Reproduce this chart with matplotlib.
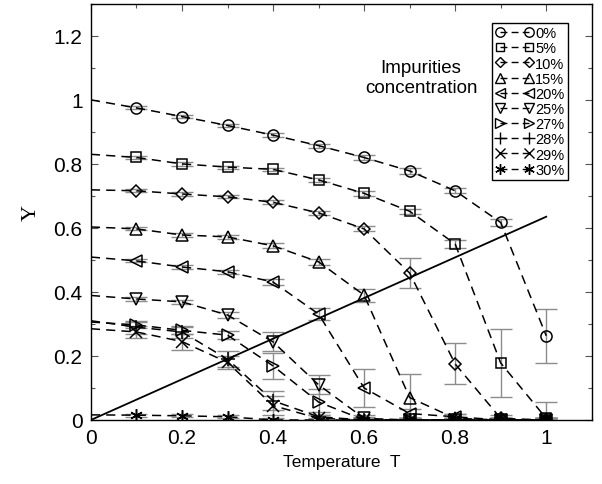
import matplotlib
matplotlib.use("Agg")
import matplotlib.pyplot as plt
from matplotlib.lines import Line2D
from matplotlib.ticker import MultipleLocator

T = [0.0, 0.1, 0.2, 0.3, 0.4, 0.5, 0.6, 0.7, 0.8, 0.9, 1.0]

labels = ["0%", "5%", "10%", "15%", "20%", "25%", "27%", "28%", "29%", "30%"]
markers = ["o", "s", "D", "^", "<", "v", ">", "+", "x", (6, 2, 0)]

y_0 = [1.0, 0.975, 0.948, 0.92, 0.89, 0.857, 0.82, 0.778, 0.716, 0.617, 0.263]
y_5 = [0.83, 0.82, 0.80, 0.79, 0.783, 0.75, 0.708, 0.652, 0.55, 0.178, 0.005]
y_10 = [0.719, 0.716, 0.706, 0.697, 0.68, 0.647, 0.597, 0.459, 0.175, 0.005, 0.0]
y_15 = [0.603, 0.597, 0.578, 0.572, 0.544, 0.494, 0.39, 0.07, 0.005, 0.0, 0.0]
y_20 = [0.509, 0.497, 0.478, 0.463, 0.431, 0.331, 0.10, 0.02, 0.01, 0.0, 0.0]
y_25 = [0.389, 0.378, 0.369, 0.328, 0.244, 0.11, 0.005, 0.0, 0.0, 0.0, 0.0]
y_27 = [0.306, 0.297, 0.28, 0.265, 0.169, 0.056, 0.0, 0.0, 0.0, 0.0, 0.0]
y_28 = [0.31, 0.29, 0.275, 0.19, 0.06, 0.01, 0.0, 0.0, 0.0, 0.0, 0.0]
y_29 = [0.285, 0.275, 0.245, 0.18, 0.045, 0.005, 0.0, 0.0, 0.0, 0.0, 0.0]
y_30 = [0.016, 0.015, 0.013, 0.01, 0.0, 0.0, 0.0, 0.0, 0.0, 0.0, 0.0]

e_0 = [0, 0.005, 0.005, 0.005, 0.006, 0.006, 0.007, 0.008, 0.008, 0.01, 0.085]
e_5 = [0, 0.005, 0.005, 0.005, 0.005, 0.006, 0.007, 0.008, 0.012, 0.105, 0.05]
e_10 = [0, 0.005, 0.005, 0.005, 0.006, 0.006, 0.008, 0.048, 0.064, 0.01, 0.005]
e_15 = [0, 0.005, 0.005, 0.006, 0.008, 0.01, 0.02, 0.075, 0.015, 0.005, 0.005]
e_20 = [0, 0.005, 0.006, 0.007, 0.008, 0.02, 0.06, 0.015, 0.01, 0.005, 0.005]
e_25 = [0, 0.006, 0.007, 0.01, 0.03, 0.03, 0.01, 0.005, 0.005, 0.005, 0.005]
e_27 = [0, 0.01, 0.01, 0.012, 0.04, 0.04, 0.01, 0.005, 0.005, 0.005, 0.005]
e_28 = [0, 0.02, 0.02, 0.025, 0.03, 0.015, 0.005, 0.005, 0.005, 0.005, 0.005]
e_29 = [0, 0.02, 0.025, 0.02, 0.03, 0.01, 0.005, 0.005, 0.005, 0.005, 0.005]
e_30 = [0, 0.005, 0.005, 0.005, 0.005, 0.005, 0.005, 0.005, 0.005, 0.005, 0.005]

series = [y_0, y_5, y_10, y_15, y_20, y_25, y_27, y_28, y_29, y_30]
errors = [e_0, e_5, e_10, e_15, e_20, e_25, e_27, e_28, e_29, e_30]

line_x = [0.0, 1.0]
line_y = [0.0, 0.635]

plt.rcParams['font.family'] = ['Liberation Sans', 'DejaVu Sans']

fig = plt.figure(figsize=(6.02, 4.85), dpi=100)
ax = fig.add_axes([0.151, 0.132, 0.832, 0.858])

msizes = [8, 7, 6, 8, 8, 8, 8, 10, 8, 9]

handles = []
for y, e, m, ms, lab in zip(series, errors, markers, msizes, labels):
    ax.errorbar(T[1:], y[1:], yerr=e[1:], fmt="none", ecolor="#8c8c8c",
                elinewidth=1.0, capsize=8, capthick=1.0, zorder=2)
    ax.plot(T, y, color="black", linestyle=(0, (6, 4)), linewidth=1.1, zorder=3)
    ax.plot(T[1:], y[1:], linestyle="none", marker=m, markersize=ms,
            markerfacecolor="none", markeredgecolor="black", markeredgewidth=1.1,
            zorder=4)
    handles.append(Line2D([0], [0], color="black", linestyle=(0, (5, 3)),
                          linewidth=1.0, marker=m, markersize=ms * 0.85,
                          markerfacecolor="none", markeredgecolor="black",
                          markeredgewidth=1.0, label=lab))

ax.plot(line_x, line_y, color="black", linewidth=1.3, zorder=3)

ax.set_xlim(0, 1.1)
ax.set_ylim(0, 1.3)
ax.xaxis.set_minor_locator(MultipleLocator(0.1))
ax.yaxis.set_minor_locator(MultipleLocator(0.1))
ax.set_xticks([0, 0.2, 0.4, 0.6, 0.8, 1.0])
ax.set_xticklabels(["0", "0.2", "0.4", "0.6", "0.8", "1"])
ax.set_yticks([0, 0.2, 0.4, 0.6, 0.8, 1.0, 1.2])
ax.set_yticklabels(["0", "0.2", "0.4", "0.6", "0.8", "1", "1.2"])
ax.tick_params(which="both", direction="in", top=True, right=True,
               labelsize=15, color="#555555")
ax.tick_params(which="major", length=5, width=0.8, pad=6)
ax.tick_params(which="minor", length=3, width=0.8)
for s in ax.spines.values():
    s.set_linewidth(1.0)

ax.set_xlabel("Temperature  T", fontsize=12.5, labelpad=5)
ax.set_ylabel("Y", fontsize=16, family=["Liberation Serif", "DejaVu Serif"],
              labelpad=9)

ax.text(0.725, 1.07, "Impurities\nconcentration", ha="center", va="center",
        fontsize=13.5, linespacing=1.2)

leg = ax.legend(handles=handles, loc="upper right", bbox_to_anchor=(0.953, 0.955),
                fontsize=10.5, numpoints=2, handlelength=2.6, handletextpad=0.15,
                borderpad=0.25, labelspacing=0.08, borderaxespad=0.0,
                fancybox=False, framealpha=1, edgecolor="black")
leg.get_frame().set_linewidth(1.0)

fig.savefig("out.png", dpi=100)
